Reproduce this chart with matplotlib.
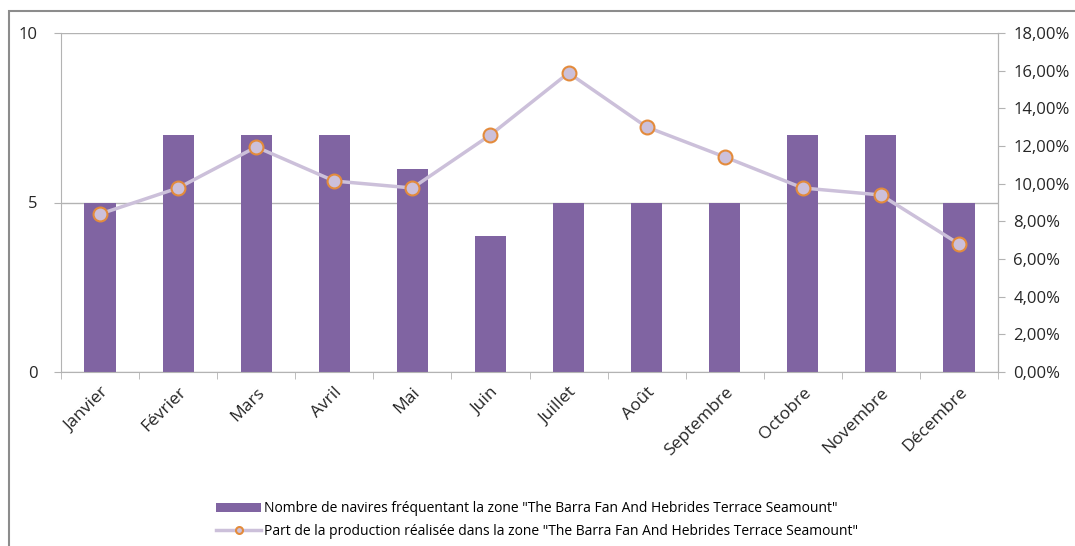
import matplotlib
matplotlib.use("Agg")
import matplotlib.pyplot as plt
from matplotlib.ticker import FuncFormatter, FixedLocator
from matplotlib.patches import Rectangle

months = ["Janvier", "Février", "Mars", "Avril", "Mai", "Juin", "Juillet",
          "Août", "Septembre", "Octobre", "Novembre", "Décembre"]
navires = [5, 7, 7, 7, 6, 4, 5, 5, 5, 7, 7, 5]
part = [8.39, 9.77, 11.95, 10.14, 9.77, 12.59, 15.88, 13.01, 11.42, 9.77, 9.40, 6.80]

label_bar = 'Nombre de navires fréquentant la zone "The Barra Fan And Hebrides Terrace Seamount"'
label_line = 'Part de la production réalisée dans la zone "The Barra Fan And Hebrides Terrace Seamount"'

plt.rcParams['font.family'] = ['Open Sans', 'DejaVu Sans']

W, H = 1075, 546
fig = plt.figure(figsize=(W / 100, H / 100), dpi=100)
fig.patch.set_facecolor("white")

# outer chart border
fig.add_artist(Rectangle((9 / W, -0.1), 1.2, 1 - 11 / H + 0.1, transform=fig.transFigure,
                         fill=False, edgecolor="#8c8c8c", linewidth=1.5))

left, right, top, bottom = 61, 998, 33, 372
ax = fig.add_axes([left / W, 1 - bottom / H, (right - left) / W, (bottom - top) / H])
ax2 = ax.twinx()

x = list(range(len(months)))
bar_color = "#8064a2"
grid_color = "#b3b3b3"
text_color = "#262626"

ax.bar(x, navires, width=0.4, color=bar_color, zorder=2, label=label_bar)
ax.set_ylim(0, 10)
ax.set_xlim(-0.5, len(months) - 0.5)
ax.set_yticks([0, 5, 10])
ax.yaxis.grid(True, color=grid_color, linewidth=1)
ax.set_axisbelow(True)
ax.set_xticks(x)
ax.set_xticklabels(months, rotation=45, ha="right", rotation_mode="anchor", fontsize=12.5)
ax.xaxis.set_minor_locator(FixedLocator([i + 0.5 for i in range(-1, len(months))]))
ax.tick_params(axis="x", which="major", length=0, pad=9)
ax.tick_params(axis="x", which="minor", length=5, color=grid_color)
ax.tick_params(axis="y", length=5, color=grid_color, labelsize=12, pad=12, labelcolor=text_color)
ax.tick_params(axis="x", labelcolor=text_color)
ax.spines["top"].set_visible(False)
for s in ["left", "bottom", "right"]:
    ax.spines[s].set_color(grid_color)

ax2.plot(x, part, color="#ccc0da", linewidth=2.5, marker="o", markersize=10,
         markerfacecolor="#ccc0da", markeredgecolor="#e38b3c", markeredgewidth=1.5,
         zorder=3, label=label_line)
ax2.set_ylim(0, 18)
ax2.set_yticks(range(0, 19, 2))
ax2.yaxis.set_major_formatter(FuncFormatter(lambda v, p: f"{v:.2f}".replace(".", ",") + "%"))
ax2.tick_params(axis="y", length=5, color=grid_color, labelsize=12, pad=6, labelcolor=text_color)
for s in ["top", "left", "bottom"]:
    ax2.spines[s].set_visible(False)
ax2.spines["right"].set_color(grid_color)

h1, l1 = ax.get_legend_handles_labels()
h2, l2 = ax2.get_legend_handles_labels()
fig.legend(h1 + h2, l1 + l2, loc="center", bbox_to_anchor=(537 / W, 1 - 520 / H),
           frameon=False, fontsize=10, handlelength=3.2, handletextpad=0.2,
           labelspacing=0.55, markerscale=0.5, handleheight=0.6)

fig.savefig("out.png", dpi=100, facecolor="white")
